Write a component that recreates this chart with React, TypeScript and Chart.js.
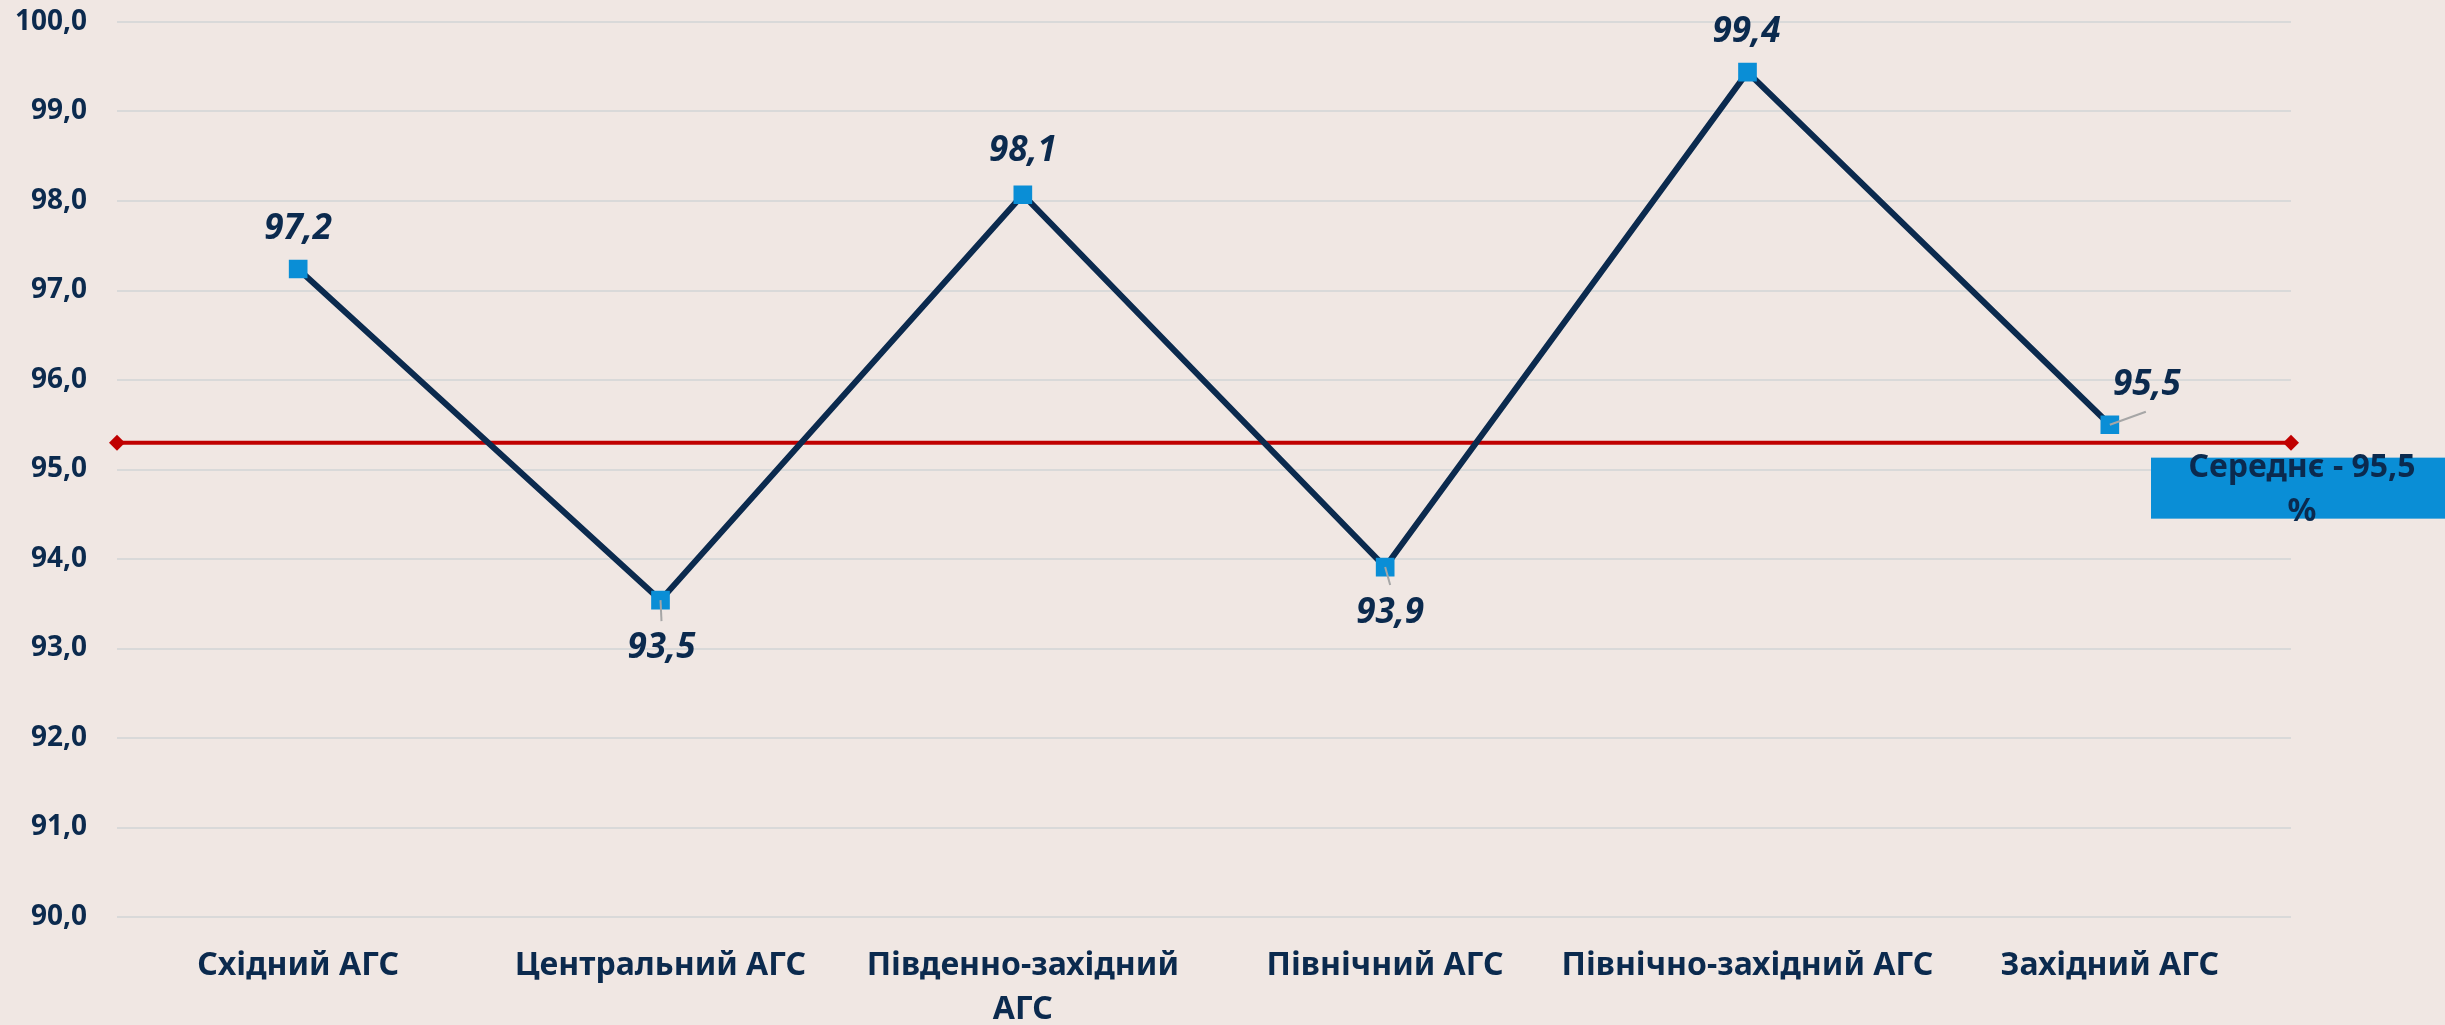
import React, { useEffect, useRef } from "react";
import { Chart, registerables } from "chart.js";

Chart.register(...registerables);

const categories: (string | string[])[] = [
  "Східний АГС",
  "Центральний АГС",
  ["Південно-західний", "АГС"],
  "Північний АГС",
  "Північно-західний АГС",
  "Західний АГС",
];
const values: number[] = [97.24, 93.54, 98.07, 93.91, 99.44, 95.5];
const averageLine: number[] = [95.3, 95.3];
const averageText: string[] = ["Середнє - 95,5", "%"];
const yMin = 90;
const yMax = 100;
const yStep = 1;

// label placement (style only): text centre offset and leader-line end, relative to point
const labelPlacement = [
  { dx: 0, dy: -40, leader: null as null | [number, number] },
  { dx: 1, dy: 48, leader: [1, 21] as [number, number] },
  { dx: 0, dy: -44, leader: null },
  { dx: 5, dy: 46, leader: [5, 18] as [number, number] },
  { dx: -1, dy: -40, leader: null },
  { dx: 37, dy: -40, leader: [36, -13] as [number, number] },
];

const BG = "#f0e7e3";
const NAVY = "#0b2a4e";
const BLUE = "#0a8ed6";
const RED = "#c00000";
const FONT = "'Noto Sans', 'DejaVu Sans', sans-serif";

const fmt = (v: number) => v.toFixed(1).replace(".", ",");

const bgPlugin = {
  id: "bgFill",
  beforeDraw(chart: any) {
    const { ctx, width, height } = chart;
    ctx.save();
    ctx.fillStyle = BG;
    ctx.fillRect(0, 0, width, height);
    ctx.restore();
  },
};

const labelsPlugin = {
  id: "pointLabels",
  afterDatasetsDraw(chart: any) {
    const { ctx } = chart;
    const meta = chart.getDatasetMeta(0);
    ctx.save();
    meta.data.forEach((pt: any, i: number) => {
      const p = labelPlacement[i];
      if (p.leader) {
        ctx.strokeStyle = "#a6a6a6";
        ctx.lineWidth = 2;
        ctx.beginPath();
        ctx.moveTo(pt.x, pt.y);
        ctx.lineTo(pt.x + p.leader[0], pt.y + p.leader[1]);
        ctx.stroke();
      }
      ctx.fillStyle = NAVY;
      ctx.font = `italic bold 35px ${FONT}`;
      ctx.textAlign = "center";
      ctx.textBaseline = "middle";
      ctx.fillText(fmt(values[i]), pt.x + p.dx, pt.y + p.dy);
    });
    ctx.restore();
  },
};

const avgBoxPlugin = {
  id: "avgBox",
  afterDraw(chart: any) {
    const { ctx, chartArea, scales } = chart;
    const yLine = scales.y.getPixelForValue(averageLine[0]);
    const left = chartArea.right - 140;
    const top = yLine + 15;
    ctx.save();
    ctx.fillStyle = BLUE;
    ctx.fillRect(left, top, chart.width - left + 2, 61);
    ctx.fillStyle = NAVY;
    ctx.font = `bold 32px ${FONT}`;
    ctx.textAlign = "center";
    ctx.textBaseline = "middle";
    const cx = left + 151;
    ctx.fillText(averageText[0], cx, top + 10);
    ctx.fillText(averageText[1], cx, top + 54);
    ctx.restore();
  },
};

export default function App() {
  const ref = useRef<HTMLCanvasElement | null>(null);
  useEffect(() => {
    document.body.style.margin = "0";
    document.body.style.background = BG;
    if (!ref.current) return;
    const chart = new Chart(ref.current, {
      type: "line",
      data: {
        labels: categories as any,
        datasets: [
          {
            data: values,
            borderColor: NAVY,
            borderWidth: 6,
            pointStyle: "rect",
            pointRadius: 13.2,
            pointHoverRadius: 13.2,
            pointBackgroundColor: BLUE,
            pointBorderWidth: 0,
            pointBorderColor: BLUE,
            tension: 0,
            order: 0,
          } as any,
          {
            data: averageLine.map((v, i) => ({ x: i, y: v })),
            xAxisID: "x2",
            borderColor: RED,
            borderWidth: 4,
            pointStyle: "rectRot",
            pointRadius: 8,
            pointHoverRadius: 8,
            pointBackgroundColor: RED,
            pointBorderWidth: 0,
            clip: false,
            order: 1,
          } as any,
        ],
      },
      options: {
        animation: false,
        responsive: true,
        maintainAspectRatio: false,
        layout: { autoPadding: false, padding: { top: 22, right: 154, left: 0, bottom: 0 } },
        plugins: {
          legend: { display: false },
          tooltip: { enabled: false },
        },
        scales: {
          x: {
            type: "category",
            offset: true,
            grid: { display: false, drawTicks: false },
            border: { display: false },
            ticks: {
              color: NAVY,
              font: { family: FONT, size: 32, weight: "bold", lineHeight: 1.4 },
              padding: 26,
              maxRotation: 0,
              autoSkip: false,
            },
            afterFit(scale: any) {
              scale.height = 108;
              scale.paddingLeft = 0;
              scale.paddingRight = 0;
            },
          },
          x2: {
            type: "linear",
            display: false,
            min: 0,
            max: 1,
          },
          y: {
            min: yMin,
            max: yMax,
            grid: { color: "#d9d9d9", lineWidth: 2, drawTicks: false },
            border: { display: false },
            ticks: {
              stepSize: yStep,
              color: NAVY,
              padding: 30,
              font: { family: FONT, size: 28, weight: "bold" },
              callback: (v: any) => fmt(Number(v)),
            },
            afterFit(scale: any) {
              scale.width = 117;
              scale.paddingTop = 0;
              scale.paddingBottom = 0;
            },
          },
        },
      },
      plugins: [bgPlugin, labelsPlugin, avgBoxPlugin],
    });
    return () => chart.destroy();
  }, []);
  return (
    <div style={{ width: "2445px", height: "1025px", position: "relative" }}>
      <canvas ref={ref} />
    </div>
  );
}
